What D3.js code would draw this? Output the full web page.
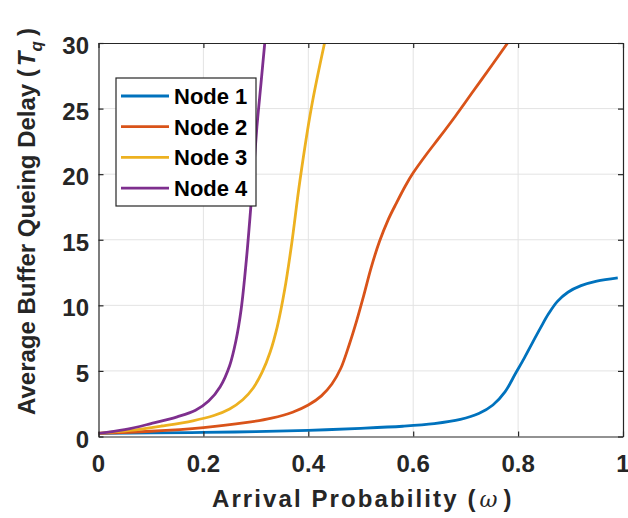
<!DOCTYPE html>
<html>
<head>
<meta charset="utf-8">
<script src="https://cdn.jsdelivr.net/npm/d3@7"></script>
<style>
  html, body { margin: 0; padding: 0; background: #fff; }
  svg { display: block; font-family: "Liberation Sans", Arial, Helvetica, sans-serif; }
</style>
</head>
<body>
<svg id="chart" width="628" height="518"></svg>
<script>
// Average buffer queueing delay vs. arrival probability for four nodes
const seriesNames = ["Node 1", "Node 2", "Node 3", "Node 4"];
const seriesColors = ["#0072BD", "#D95319", "#EDB120", "#7E2F8E"];

const omegaNode1 = [0, 0.1, 0.2, 0.3, 0.4, 0.5, 0.58, 0.64, 0.69, 0.725, 0.752, 0.775, 0.795, 0.812, 0.828, 0.843, 0.858, 0.875, 0.895, 0.92, 0.95, 0.99];
const delayNode1 = [0.24, 0.27, 0.31, 0.37, 0.47, 0.62, 0.78, 0.98, 1.3, 1.75, 2.4, 3.4, 4.8, 6.0, 7.2, 8.3, 9.35, 10.3, 11.0, 11.5, 11.85, 12.1];

const omegaNode2 = [0, 0.1, 0.2, 0.28, 0.33, 0.37, 0.4, 0.425, 0.445, 0.462, 0.478, 0.492, 0.506, 0.52, 0.536, 0.552, 0.568, 0.585, 0.6, 0.625, 0.65, 0.68, 0.714, 0.75, 0.78];
const delayNode2 = [0.24, 0.4, 0.68, 1.05, 1.4, 1.85, 2.4, 3.1, 4.0, 5.2, 7.0, 8.8, 10.8, 12.9, 14.9, 16.5, 17.8, 19.1, 20.1, 21.5, 22.8, 24.4, 26.3, 28.3, 30];

const omegaNode3 = [0, 0.06, 0.12, 0.18, 0.22, 0.25, 0.275, 0.295, 0.312, 0.327, 0.341, 0.355, 0.368, 0.384, 0.406, 0.431];
const delayNode3 = [0.24, 0.46, 0.8, 1.2, 1.6, 2.1, 2.8, 3.7, 4.9, 6.4, 8.4, 11.2, 14.6, 19.5, 25.1, 30];

const omegaNode4 = [0, 0.05, 0.1, 0.15, 0.185, 0.21, 0.232, 0.25, 0.262, 0.272, 0.282, 0.292, 0.302, 0.31, 0.317];
const delayNode4 = [0.24, 0.52, 0.98, 1.5, 2.0, 2.7, 3.8, 5.4, 7.3, 9.7, 13.5, 18.3, 23.6, 27.0, 30];

const xTicks = [0, 0.2, 0.4, 0.6, 0.8, 1];
const yTicks = [0, 5, 10, 15, 20, 25, 30];

const series = [
  { name: seriesNames[0], color: seriesColors[0], x: omegaNode1, y: delayNode1 },
  { name: seriesNames[1], color: seriesColors[1], x: omegaNode2, y: delayNode2 },
  { name: seriesNames[2], color: seriesColors[2], x: omegaNode3, y: delayNode3 },
  { name: seriesNames[3], color: seriesColors[3], x: omegaNode4, y: delayNode4 }
];

const svg = d3.select("#chart");
const plot = { left: 98.5, right: 623, top: 43, bottom: 436.5 };

const x = d3.scaleLinear().domain([0, 1]).range([plot.left, plot.right]);
const y = d3.scaleLinear().domain([0, 30]).range([plot.bottom, plot.top]);

const axisColor = "#262626";
const gridColor = "#e3e3e3";

// grid
const grid = svg.append("g");
grid.selectAll("line.gx").data(xTicks.slice(1, -1)).join("line")
  .attr("x1", d => x(d)).attr("x2", d => x(d))
  .attr("y1", plot.top).attr("y2", plot.bottom)
  .attr("stroke", gridColor).attr("stroke-width", 1);
grid.selectAll("line.gy").data(yTicks.slice(1, -1)).join("line")
  .attr("x1", plot.left).attr("x2", plot.right)
  .attr("y1", d => y(d)).attr("y2", d => y(d))
  .attr("stroke", gridColor).attr("stroke-width", 1);

// curves
svg.append("clipPath").attr("id", "plotClip")
  .append("rect")
  .attr("x", plot.left).attr("y", plot.top)
  .attr("width", plot.right - plot.left).attr("height", plot.bottom - plot.top);

const line = d3.line()
  .x(d => x(d[0]))
  .y(d => y(d[1]))
  .curve(d3.curveCatmullRom.alpha(0.5));

svg.append("g").attr("clip-path", "url(#plotClip)")
  .selectAll("path").data(series).join("path")
  .attr("d", s => line(s.x.map((v, i) => [v, s.y[i]])))
  .attr("fill", "none")
  .attr("stroke", s => s.color)
  .attr("stroke-width", 2.8)
  .attr("stroke-linejoin", "round");

// axes box with inward ticks on all four sides
const tickLen = 5;
const axesG = svg.append("g");
const bottomAxis = d3.axisBottom(x).tickValues(xTicks).tickSizeInner(-tickLen).tickSizeOuter(0).tickFormat("");
const topAxis = d3.axisTop(x).tickValues(xTicks).tickSizeInner(-tickLen).tickSizeOuter(0).tickFormat("");
const leftAxis = d3.axisLeft(y).tickValues(yTicks).tickSizeInner(-tickLen).tickSizeOuter(0).tickFormat("");
const rightAxis = d3.axisRight(y).tickValues(yTicks).tickSizeInner(-tickLen).tickSizeOuter(0).tickFormat("");

axesG.append("g").attr("transform", `translate(0,${plot.bottom})`).call(bottomAxis);
axesG.append("g").attr("transform", `translate(0,${plot.top})`).call(topAxis);
axesG.append("g").attr("transform", `translate(${plot.left},0)`).call(leftAxis);
axesG.append("g").attr("transform", `translate(${plot.right},0)`).call(rightAxis);
axesG.selectAll("path.domain").attr("stroke", axisColor).attr("stroke-width", 1.2);
axesG.selectAll(".tick line").attr("stroke", axisColor).attr("stroke-width", 1.2);

// tick labels
svg.append("g").selectAll("text").data(xTicks).join("text")
  .attr("x", d => x(d)).attr("y", 472)
  .attr("text-anchor", "middle")
  .attr("font-size", 24).attr("font-weight", "bold").attr("fill", axisColor)
  .text(d => d3.format("~g")(d));

svg.append("g").selectAll("text").data(yTicks).join("text")
  .attr("x", 89).attr("y", d => y(d) + 11)
  .attr("text-anchor", "end")
  .attr("font-size", 24).attr("font-weight", "bold").attr("fill", axisColor)
  .text(d => d);

// axis titles
const xTitle = svg.append("text")
  .attr("x", 212).attr("y", 507)
  .attr("font-size", 24).attr("font-weight", "bold").attr("fill", axisColor)
  .attr("letter-spacing", 2.1);
xTitle.append("tspan").text("Arrival Probability (");
xTitle.append("tspan").attr("font-family", "'DejaVu Serif', serif").attr("font-style", "italic")
  .attr("font-weight", "normal").attr("font-size", 22).attr("letter-spacing", 0).attr("dx", 2).text("\u03C9");
xTitle.append("tspan").attr("dx", 6).text(")");

const yTitle = svg.append("text")
  .attr("transform", "rotate(-90)")
  .attr("x", -415).attr("y", 35)
  .attr("font-size", 24).attr("font-weight", "bold").attr("fill", axisColor);
yTitle.append("tspan").text("Average Buffer Queing Delay (");
yTitle.append("tspan").attr("font-style", "italic").attr("dx", 3).text("T");
yTitle.append("tspan").attr("font-style", "italic").attr("font-size", 17).attr("dy", 7).text("q");
yTitle.append("tspan").attr("dy", -7).attr("dx", 5).text(")");

// legend
const legend = { x: 116, y: 78, w: 140, h: 128, rowTop: 96, rowStep: 30.7 };
const lg = svg.append("g");
lg.append("rect")
  .attr("x", legend.x).attr("y", legend.y)
  .attr("width", legend.w).attr("height", legend.h)
  .attr("fill", "#fff").attr("stroke", axisColor).attr("stroke-width", 1.2);
const rows = lg.selectAll("g.row").data(series).join("g")
  .attr("transform", (d, i) => `translate(0,${legend.rowTop + i * legend.rowStep})`);
rows.append("line")
  .attr("x1", 121).attr("x2", 169).attr("y1", 0).attr("y2", 0)
  .attr("stroke", d => d.color).attr("stroke-width", 2.8);
rows.append("text")
  .attr("x", 174).attr("y", 8)
  .attr("font-size", 22).attr("font-weight", "bold").attr("fill", "#000")
  .text(d => d.name);
</script>
</body>
</html>
